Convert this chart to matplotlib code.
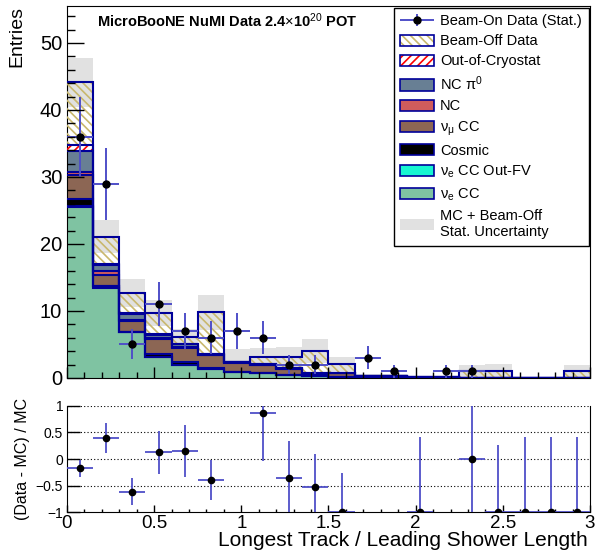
import numpy as np
import matplotlib
matplotlib.use('Agg')
import matplotlib.pyplot as plt
from matplotlib.patches import Patch
from matplotlib.ticker import MultipleLocator, FuncFormatter
from matplotlib.container import ErrorbarContainer
from matplotlib.legend_handler import HandlerErrorbar

plt.rcParams['font.family'] = ['Liberation Sans', 'DejaVu Sans']
plt.rcParams['mathtext.fontset'] = 'custom'
plt.rcParams['mathtext.rm'] = 'Liberation Sans'
plt.rcParams['mathtext.it'] = 'Liberation Sans:italic'
plt.rcParams['mathtext.bf'] = 'Liberation Sans:bold'
plt.rcParams['hatch.linewidth'] = 1.2

# binning: 20 bins of 0.15 from 0 to 3
edges = np.linspace(0, 3, 21)
centers = 0.5 * (edges[1:] + edges[:-1])

# stacked components (bottom -> top)
nue_cc   = [25.5, 13.4, 6.8, 3.2, 1.95, 1.4, 0.95, 0.8, 0.5, 0.35, 0.1, 0.15, 0.1, 0.05, 0.05, 0, 0, 0, 0, 0]
nue_ofv  = [0.1, 0.3, 0.05, 0, 0, 0, 0, 0, 0, 0, 0, 0, 0, 0, 0, 0, 0, 0, 0, 0]
cosmic   = [1.1, 0, 0, 0.4, 0.45, 0.05, 0, 0, 0, 0, 0, 0, 0, 0, 0, 0, 0, 0, 0, 0]
numu_cc  = [3.6, 1.7, 1.6, 2.2, 2.1, 1.95, 1.35, 1.2, 0.9, 0.3, 0.7, 0.1, 0.15, 0.1, 0.05, 0.05, 0.05, 0.03, 0.03, 0]
nc       = [0.5, 0.5, 0.2, 0.15, 0.1, 0.05, 0.05, 0, 0, 0, 0, 0, 0, 0, 0, 0, 0, 0, 0, 0]
nc_pi0   = [3.0, 1.0, 0.9, 0.45, 0.4, 0.15, 0.05, 0.1, 0.1, 0.1, 0, 0.05, 0.05, 0, 0, 0, 0, 0, 0, 0]
out_cryo = [0.9, 0.1, 0.1, 0.2, 0.1, 0, 0, 0, 0, 0, 0, 0, 0, 0, 0, 0, 0, 0, 0, 0]
beam_off = [9.4, 4.1, 3.0, 3.1, 1.0, 6.2, 0, 1.1, 1.6, 3.25, 1.25, 0, 0, 0, 0, 0.95, 1.0, 0, 0, 1.0]
stat_err = [3.7, 2.5, 2.1, 2.0, 1.2, 2.6, 1.9, 1.3, 1.5, 1.8, 1.05, 0.3, 0.3, 0.2, 0.15, 1.0, 1.0, 0.05, 0.05, 1.0]
data     = [36, 29, 5, 11, 7, 6, 7, 6, 2, 2, 0, 3, 1, 0, 1, 1, 0, 0, 0, 0]

# ratio panel
ratio_x   = [0.075, 0.225, 0.375, 0.525, 0.675, 0.825, 1.125, 1.275, 1.425, 1.575, 2.025, 2.325, 2.475, 2.625, 2.775, 2.925]
ratio_val = [-0.175, 0.39, -0.61, 0.125, 0.15, -0.39, 0.86, -0.35, -0.52, -1, -1, 0.0, -1, -1, -1, -1]
ratio_lo  = [0.16, 0.28, 0.25, 0.40, 0.48, 0.37, 0.90, 0.68, 0.61, 0, 0, 1.05, 0, 0, 0, 0]
ratio_hi  = [0.16, 0.28, 0.25, 0.40, 0.48, 0.37, 0.90, 0.68, 0.61, 0.73, 1.42, 1.05, 1.26, 1.42, 1.42, 1.42]

navy = '#000099'
khaki = '#c9b86e'
err_blue = '#4f4fc8'

fig = plt.figure(figsize=(5.98, 5.51), dpi=100)
ax1 = fig.add_axes([0.112, 0.314, 0.8746, 0.675])
ax2 = fig.add_axes([0.112, 0.0702, 0.8746, 0.1935])

layers = [
    (nue_cc, '#7fc3a2', None),
    (nue_ofv, '#17f5d1', None),
    (cosmic, 'black', None),
    (numu_cc, '#8c6654', None),
    (nc, '#d15c5c', None),
    (nc_pi0, '#687f94', None),
    (out_cryo, 'red', '////'),
    (beam_off, khaki, '\\\\\\\\'),
]

total = np.sum([np.array(v, float) for v, c, h in layers], axis=0)
err = np.array(stat_err)

# MC + beam-off uncertainty band (behind everything)
ax1.bar(centers, 2 * err, bottom=total - err, width=0.15, color='#e1e1e1', lw=0, zorder=1)

bottom = np.zeros(20)
for vals, col, hatch in layers:
    vals = np.array(vals, float)
    top = bottom + vals
    if hatch is None:
        ax1.stairs(top, edges, baseline=bottom, fill=True, color=col, lw=0, zorder=2)
    else:
        ax1.bar(centers, vals, width=0.15, bottom=bottom, facecolor='none',
                edgecolor=col, hatch=hatch, lw=0, zorder=3)
    ax1.stairs(top, edges, baseline=None, color=navy, lw=1.5, zorder=4)
    bottom = top

d = np.array(data, float)
m = d > 0
h_data = ax1.errorbar(centers[m], d[m], yerr=np.sqrt(d[m]), xerr=0.075, fmt='o', color='black',
                      ms=5, ecolor=err_blue, elinewidth=1.4, capsize=0, zorder=6)

ax1.set_xlim(0, 3)
ax1.set_ylim(0, 55.5)
ax1.xaxis.set_major_locator(MultipleLocator(0.5))
ax1.xaxis.set_minor_locator(MultipleLocator(0.1))
ax1.yaxis.set_major_locator(MultipleLocator(10))
ax1.yaxis.set_minor_locator(MultipleLocator(2))
ax1.tick_params(axis='x', which='both', direction='in', labelbottom=False)
ax1.tick_params(axis='x', which='major', length=7.7, width=1)
ax1.tick_params(axis='x', which='minor', length=4.1, width=1)
ax1.tick_params(axis='y', which='both', direction='in', labelsize=14.5, pad=3.5)
ax1.tick_params(axis='y', which='major', length=12, width=1)
ax1.tick_params(axis='y', which='minor', length=5.8, width=1)
ax1.xaxis.set_zorder(10)
ax1.yaxis.set_zorder(10)
ax1.set_ylabel('Entries', loc='top', fontsize=14)
ax1.yaxis.set_label_coords(-0.080, 1.0)

ax1.text(0.057, 0.985, 'MicroBooNE NuMI Data 2.4$\\times$10$^{20}$ POT', transform=ax1.transAxes,
         ha='left', va='top', fontsize=10.5, fontweight='bold', zorder=12)

handles = [
    h_data,
    (Patch(facecolor='white', edgecolor=khaki, hatch='\\\\\\\\', lw=0), Patch(facecolor='none', edgecolor=navy, lw=1.2)),
    (Patch(facecolor='white', edgecolor='red', hatch='////', lw=0), Patch(facecolor='none', edgecolor=navy, lw=1.2)),
    Patch(facecolor='#687f94', edgecolor=navy, lw=1.2),
    Patch(facecolor='#d15c5c', edgecolor=navy, lw=1.2),
    Patch(facecolor='#8c6654', edgecolor=navy, lw=1.2),
    Patch(facecolor='black', edgecolor=navy, lw=1.2),
    Patch(facecolor='#17f5d1', edgecolor=navy, lw=1.2),
    Patch(facecolor='#7fc3a2', edgecolor=navy, lw=1.2),
    Patch(facecolor='#e1e1e1', edgecolor='none'),
]
labels = ['Beam-On Data (Stat.)', 'Beam-Off Data', 'Out-of-Cryostat', 'NC π$^{0}$', 'NC',
          'ν$_{\\mathrm{μ}}$ CC', 'Cosmic', 'ν$_{\\mathrm{e}}$ CC Out-FV', 'ν$_{\\mathrm{e}}$ CC',
          'MC + Beam-Off\nStat. Uncertainty']
leg = ax1.legend(handles, labels, loc='upper right', bbox_to_anchor=(1.0, 1.0), frameon=True,
                 fancybox=False, framealpha=1, edgecolor='black', fontsize=10.5,
                 borderaxespad=0.1, handlelength=2.3, handleheight=0.8, handletextpad=0.45,
                 labelspacing=0.42, borderpad=0.45,
                 handler_map={ErrorbarContainer: HandlerErrorbar(xerr_size=1.15, yerr_size=0.4)})
leg.get_frame().set_linewidth(1.0)
leg.set_zorder(20)

# ratio panel
for yv in [-0.5, 0, 0.5, 1]:
    ax2.axhline(yv, color='black', lw=0.8, ls=(0, (1, 2)), zorder=1)
ax2.errorbar(ratio_x, ratio_val, yerr=[ratio_lo, ratio_hi], xerr=0.075, fmt='o', color='black',
             ms=4.5, ecolor=err_blue, elinewidth=1.3, capsize=0, zorder=5)
ax2.set_xlim(0, 3)
ax2.set_ylim(-1, 1)
ax2.spines['top'].set_visible(False)
ax2.xaxis.set_major_locator(MultipleLocator(0.5))
ax2.xaxis.set_minor_locator(MultipleLocator(0.1))
ax2.yaxis.set_major_locator(MultipleLocator(0.5))
ax2.xaxis.set_major_formatter(FuncFormatter(lambda v, p: '%g' % v))
ax2.yaxis.set_major_formatter(FuncFormatter(lambda v, p: ('%g' % v).replace('-', '\u2212')))
ax2.tick_params(axis='x', which='both', direction='in', labelsize=13.5, pad=2.0)
ax2.tick_params(axis='x', which='major', length=5, width=1)
ax2.tick_params(axis='x', which='minor', length=2.5, width=1)
ax2.tick_params(axis='y', which='major', direction='in', labelsize=10, length=9.5, width=1, pad=2.7)
ax2.set_ylabel('(Data - MC) / MC', fontsize=11.5)
ax2.yaxis.set_label_coords(-0.071, 0.5)
ax2.set_xlabel('Longest Track / Leading Shower Length', loc='right', fontsize=15)
ax2.xaxis.set_label_coords(0.996, -0.178)

fig.savefig('out.png', dpi=100)
